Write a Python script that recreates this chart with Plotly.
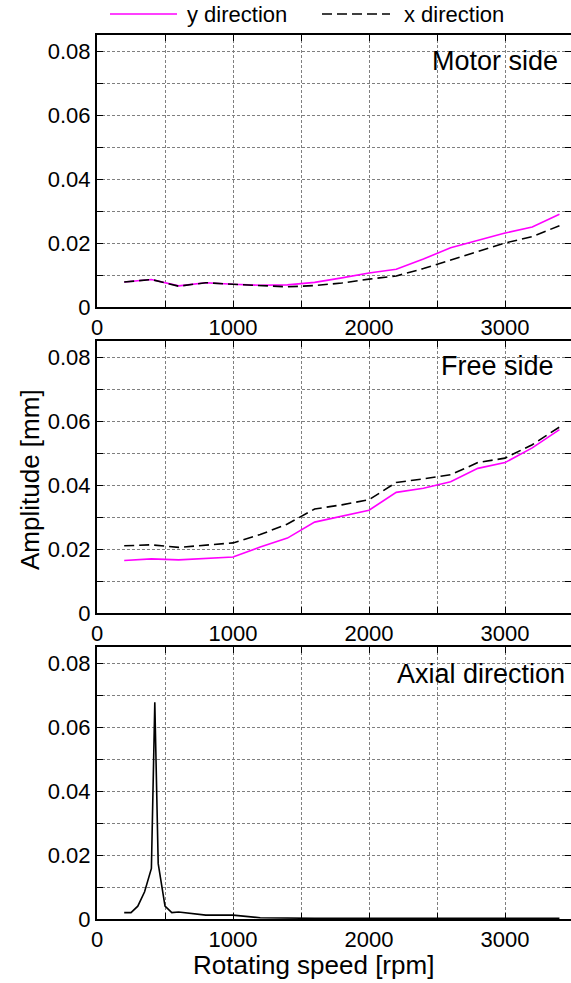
import plotly.graph_objects as go

# ---------------- data ----------------
speed = [200, 400, 600, 800, 1000, 1200, 1400, 1600, 1800, 2000,
         2200, 2400, 2600, 2800, 3000, 3200, 3400]

motor_y = [0.0078, 0.0086, 0.0066, 0.0076, 0.0071, 0.0068, 0.0069, 0.0077, 0.0091, 0.0106,
           0.0118, 0.0150, 0.0185, 0.0208, 0.0231, 0.0250, 0.0290]
motor_x = [0.0078, 0.0086, 0.0065, 0.0076, 0.0071, 0.0066, 0.0063, 0.0067, 0.0075, 0.0087,
           0.0097, 0.0120, 0.0146, 0.0174, 0.0200, 0.0220, 0.0254]

free_y = [0.0164, 0.0169, 0.0166, 0.0170, 0.0175, 0.0206, 0.0234, 0.0284, 0.0302, 0.0321,
          0.0377, 0.0390, 0.0410, 0.0452, 0.0470, 0.0516, 0.0573]
free_x = [0.0210, 0.0213, 0.0205, 0.0211, 0.0219, 0.0245, 0.0278, 0.0325, 0.0338, 0.0354,
          0.0408, 0.0419, 0.0432, 0.0470, 0.0484, 0.0526, 0.0581]

axial_speed = [200, 250, 300, 350, 400, 425, 450, 500, 550, 600, 800, 1000, 1200, 1400,
               1600, 1800, 2000, 2200, 2400, 2600, 2800, 3000, 3200, 3400]
axial_amp = [0.0020, 0.0020, 0.0040, 0.0085, 0.0158, 0.0677, 0.0173, 0.0040, 0.0020, 0.0022,
             0.0012, 0.0012, 0.0004, 0.0002, 0.0002, 0.0002, 0.0002, 0.0002, 0.0002, 0.0002,
             0.0004, 0.0003, 0.0002, 0.0002]

panel_titles = ["Motor side", "Free side", "Axial direction"]
legend_names = ["y direction", "x direction"]
x_ticks = [0, 500, 1000, 1500, 2000, 2500, 3000]
x_ticktext = ["0", "", "1000", "", "2000", "", "3000"]
y_ticks = [0, 0.01, 0.02, 0.03, 0.04, 0.05, 0.06, 0.07, 0.08]
y_ticktext = ["0", "", "0.02", "", "0.04", "", "0.06", "", "0.08"]

# ---------------- style ----------------
FONT = "Liberation Sans, Arial, sans-serif"
MAGENTA = "#ff00ff"
W, H = 571, 983
ML, MR, MT, MB = 97, 0, 35, 64
PW, PH = W - ML - MR, H - MT - MB


def px(x):
    return (x - ML) / PW


def py(y):
    return (H - MB - y) / PH


fig = go.Figure()

# top panel
fig.add_trace(go.Scatter(x=speed, y=motor_y, mode="lines", line=dict(color=MAGENTA, width=1.6),
                         xaxis="x", yaxis="y", showlegend=False))
fig.add_trace(go.Scatter(x=speed, y=motor_x, mode="lines",
                         line=dict(color="black", width=1.6, dash="10px,5px"),
                         xaxis="x", yaxis="y", showlegend=False))
# middle panel
fig.add_trace(go.Scatter(x=speed, y=free_y, mode="lines", line=dict(color=MAGENTA, width=1.6),
                         xaxis="x2", yaxis="y2", showlegend=False))
fig.add_trace(go.Scatter(x=speed, y=free_x, mode="lines",
                         line=dict(color="black", width=1.6, dash="10px,5px"),
                         xaxis="x2", yaxis="y2", showlegend=False))
# bottom panel
fig.add_trace(go.Scatter(x=axial_speed, y=axial_amp, mode="lines", line=dict(color="black", width=1.6),
                         xaxis="x3", yaxis="y3", showlegend=False))

# empty traces to activate the right-hand tick axes
for k in (4, 5, 6):
    fig.add_trace(go.Scatter(x=[], y=[], mode="lines", xaxis="x" if k == 4 else "x" + str(k - 3),
                             yaxis="y" + str(k), showlegend=False, hoverinfo="skip"))

domains = [[(H - MB - 307) / PH, 1.0],
           [(H - MB - 613) / PH, (H - MB - 341) / PH],
           [0.0, (H - MB - 647) / PH]]

tickfont = dict(size=22, color="black", family=FONT)
common_x = dict(range=[0, 3485], tickvals=x_ticks, ticktext=x_ticktext,
                ticks="inside", ticklen=6, tickwidth=1.3, tickcolor="black",
                showline=True, linecolor="black", linewidth=2, mirror="ticks",
                showgrid=True, gridcolor="#7f7f7f", gridwidth=1, griddash="3px,2px",
                zeroline=False, tickfont=tickfont)
common_y = dict(range=[0, 0.085], tickvals=y_ticks, ticktext=y_ticktext,
                ticks="inside", ticklen=6, tickwidth=1.3, tickcolor="black",
                showline=True, linecolor="black", linewidth=2, mirror=False,
                showgrid=True, gridcolor="#7f7f7f", gridwidth=1, griddash="3px,2px",
                zeroline=False, tickfont=tickfont)
right_y = dict(range=[0, 0.085], tickvals=y_ticks, ticks="inside", ticklen=6, tickwidth=1.3,
               tickcolor="black", showline=False, showgrid=False, zeroline=False,
               showticklabels=False, side="right")

layout = dict(width=W, height=H, margin=dict(l=ML, r=MR, t=MT, b=MB),
              paper_bgcolor="white", plot_bgcolor="white",
              font=dict(family=FONT, color="black"), showlegend=False)
for i, d in enumerate(domains):
    s = "" if i == 0 else str(i + 1)
    layout["xaxis" + s] = dict(common_x, domain=[0, 1], anchor="y" + s)
    layout["yaxis" + s] = dict(common_y, domain=d, anchor="x" + s)
    layout["yaxis" + str(i + 4)] = dict(right_y, domain=d, anchor="x" + s,
                                        overlaying="y" + s)
fig.update_layout(**layout)

# panel labels
label_pos = [(560, 61), (556, 366), (567, 674)]
for (lx, ly), t in zip(label_pos, panel_titles):
    fig.add_annotation(text=t, x=px(lx), y=py(ly), xref="paper", yref="paper",
                       xanchor="right", yanchor="middle", showarrow=False,
                       font=dict(size=27, color="black", family=FONT))

# axis titles
fig.add_annotation(text="Rotating speed [rpm]", x=px(313), y=py(965), xref="paper", yref="paper",
                   xanchor="center", yanchor="middle", showarrow=False,
                   font=dict(size=26, color="black", family=FONT))
fig.add_annotation(text="Amplitude [mm]", x=px(30), y=py(480), xref="paper", yref="paper",
                   xanchor="center", yanchor="middle", showarrow=False, textangle=-90,
                   font=dict(size=26, color="black", family=FONT))

# manual legend
fig.add_shape(type="line", xref="paper", yref="paper", x0=px(110), x1=px(177), y0=py(14), y1=py(14),
              line=dict(color=MAGENTA, width=1.6))
fig.add_shape(type="line", xref="paper", yref="paper", x0=px(322), x1=px(390), y0=py(14), y1=py(14),
              line=dict(color="black", width=1.6, dash="10px,5px"))
fig.add_annotation(text=legend_names[0], x=px(185), y=py(14), xref="paper", yref="paper",
                   xanchor="left", yanchor="middle", showarrow=False,
                   font=dict(size=22, color="black", family=FONT))
fig.add_annotation(text=legend_names[1], x=px(402), y=py(14), xref="paper", yref="paper",
                   xanchor="left", yanchor="middle", showarrow=False,
                   font=dict(size=22, color="black", family=FONT))

fig.write_html("out.html")
